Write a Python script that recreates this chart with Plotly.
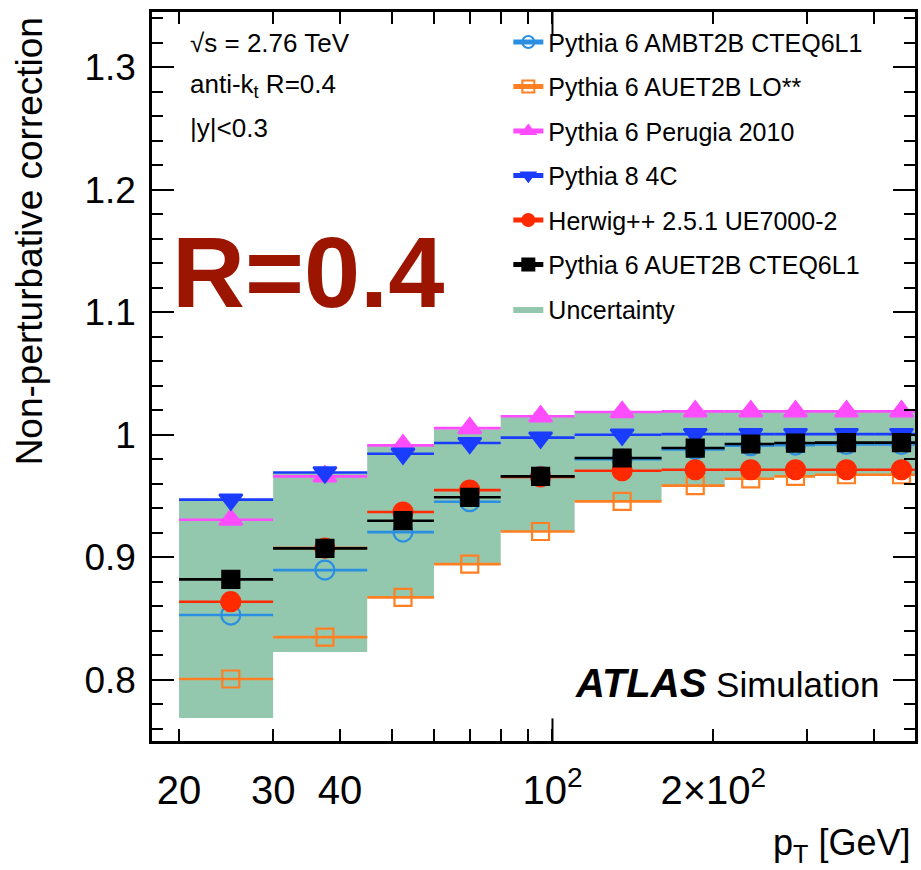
import plotly.graph_objects as go

# ---------------- data ----------------
bin_edges = [20, 30, 45, 60, 80, 110, 160, 210, 260, 310, 400, 500]

ambt2b = [0.8528, 0.8895, 0.9205, 0.9453, 0.9660, 0.9800, 0.9880, 0.9910, 0.9915, 0.9920, 0.9920]
auet2b_lo = [0.8006, 0.8348, 0.8672, 0.8944, 0.9210, 0.9456, 0.9584, 0.9640, 0.9660, 0.9673, 0.9673]
perugia = [0.9306, 0.9660, 0.9913, 1.0054, 1.0150, 1.0185, 1.0190, 1.0190, 1.0190, 1.0190, 1.0190]
py8_4c = [0.9470, 0.9692, 0.9845, 0.9932, 0.9976, 1.0000, 1.0005, 1.0005, 1.0005, 1.0005, 1.0005]
herwig = [0.8637, 0.9075, 0.9369, 0.9548, 0.9655, 0.9706, 0.9714, 0.9714, 0.9714, 0.9714, 0.9714]
auet2b_cteq = [0.8819, 0.9072, 0.9298, 0.9489, 0.9660, 0.9810, 0.9891, 0.9924, 0.9932, 0.9935, 0.9935]

unc_lo = [0.7687, 0.8226, 0.8672, 0.8944, 0.9210, 0.9456, 0.9584, 0.9640, 0.9660, 0.9673, 0.9673]
unc_hi = [0.9470, 0.9687, 0.9913, 1.0045, 1.0148, 1.0185, 1.0190, 1.0190, 1.0190, 1.0190, 1.0190]

series_names = ["Pythia 6 AMBT2B CTEQ6L1", "Pythia 6 AUET2B LO**", "Pythia 6 Perugia 2010",
                "Pythia 8 4C", "Herwig++ 2.5.1 UE7000-2", "Pythia 6 AUET2B CTEQ6L1"]
series_values = [ambt2b, auet2b_lo, perugia, py8_4c, herwig, auet2b_cteq]
series_colors = ["#2a8fe0", "#ff7f22", "#ff4cff", "#1a3cff", "#ff2a00", "#000000"]
series_symbols = ["circle-open", "square-open", "triangle-up", "triangle-down", "circle", "square"]
series_sizes = [19, 17, 20, 20, 19, 17]

x_tickvals = [20, 30, 40, 100, 200]
x_ticktext = ["20", "30", "40", "10<sup>2</sup>", "2×10<sup>2</sup>"]
x_minor_tickvals = [50, 60, 70, 80, 90, 300, 400]
y_tickvals = [0.8, 0.9, 1.0, 1.1, 1.2, 1.3]
y_ticktext = ["0.8", "0.9", "1", "1.1", "1.2", "1.3"]

FONT = "Liberation Sans, Arial, Helvetica, sans-serif"
lows = bin_edges[:-1]
highs = bin_edges[1:]
centers = [(a + b) / 2 for a, b in zip(lows, highs)]

fig = go.Figure()

# uncertainty band (boxes per bin)
bx, by = [], []
for a, b, l, h in zip(lows, highs, unc_lo, unc_hi):
    bx += [a, b, b, a, a, None]
    by += [l, l, h, h, l, None]
fig.add_trace(go.Scatter(x=bx, y=by, mode="lines", fill="toself", fillcolor="#93c8af",
                         line=dict(width=0, color="#93c8af"), name="Uncertainty",
                         legendgroup="g7", legendrank=7, hoverinfo="skip"))

for i, (nm, vals, col, sym, sz) in enumerate(zip(series_names, series_values, series_colors,
                                                  series_symbols, series_sizes)):
    lx, ly = [], []
    for a, b, v in zip(lows, highs, vals):
        lx += [a, b, None]
        ly += [v, v, None]
    fig.add_trace(go.Scatter(x=lx, y=ly, mode="lines", line=dict(color=col, width=2.6),
                             showlegend=False, legendgroup=f"g{i}", hoverinfo="skip"))
    mx, my = [], []
    for c, v in zip(centers, vals):
        mx += [c, None]
        my += [v, None]
    fig.add_trace(go.Scatter(x=mx, y=my, mode="lines+markers", name=nm,
                             line=dict(color=col, width=2.6),
                             marker=dict(symbol=sym, size=sz, color=col,
                                         line=dict(color=col, width=2.2)),
                             legendgroup=f"g{i}", legendrank=i + 1))

# long tick at 10^2 (bottom and top)
for y0, y1 in [(0, 0.031), (1, 1 - 0.031)]:
    fig.add_shape(type="line", xref="x", yref="paper", x0=100, x1=100, y0=y0, y1=y1,
                  line=dict(color="black", width=2))

ann = []
ann.append(dict(text="√s = 2.76 TeV", x=0.047, y=0.957, xref="paper", yref="paper",
                xanchor="left", yanchor="middle", showarrow=False,
                font=dict(family=FONT, size=26, color="black")))
ann.append(dict(text="anti-k<sub>t</sub> R=0.4", x=0.047, y=0.899, xref="paper", yref="paper",
                xanchor="left", yanchor="middle", showarrow=False,
                font=dict(family=FONT, size=26, color="black")))
ann.append(dict(text="|y|<0.3", x=0.047, y=0.841, xref="paper", yref="paper",
                xanchor="left", yanchor="middle", showarrow=False,
                font=dict(family=FONT, size=26, color="black")))
ann.append(dict(text="<b>R=0.4</b>", x=0.204, y=0.643, xref="paper", yref="paper",
                xanchor="center", yanchor="middle", showarrow=False,
                font=dict(family=FONT, size=101, color="#9b1500")))
ann.append(dict(text="<b><i><span style='font-size:40px'>ATLAS</span></i></b> Simulation",
                x=0.957, y=0.0796, xref="paper", yref="paper",
                xanchor="right", yanchor="middle", showarrow=False,
                font=dict(family=FONT, size=35, color="black")))
ann.append(dict(text="Non-perturbative correction", x=-0.1606, y=0.686, xref="paper", yref="paper",
                xanchor="center", yanchor="middle", showarrow=False, textangle=-90,
                font=dict(family=FONT, size=37, color="black")))
ann.append(dict(text="p<sub>T</sub> [GeV]", x=0.996, y=-0.1427, xref="paper", yref="paper",
                xanchor="right", yanchor="middle", showarrow=False,
                font=dict(family=FONT, size=36, color="black")))

fig.update_layout(
    width=921, height=870,
    margin=dict(l=152, r=3, t=12, b=129),
    paper_bgcolor="white", plot_bgcolor="white",
    showlegend=True,
    legend=dict(x=0.467, y=0.99, xanchor="left", yanchor="top", bgcolor="rgba(0,0,0,0)",
                font=dict(family=FONT, size=25, color="black"), tracegroupgap=9,
                traceorder="grouped", itemsizing="constant"),
    annotations=ann,
    xaxis=dict(type="log", range=[1.2504, 2.6785], showgrid=False, zeroline=False,
               showline=True, linecolor="black", linewidth=2.5, mirror="allticks",
               ticks="inside", ticklen=12, tickwidth=2, tickcolor="black",
               tickmode="array", tickvals=x_tickvals, ticktext=x_ticktext,
               tickfont=dict(family=FONT, size=40, color="black"), ticklabelstandoff=12,
               minor=dict(tickmode="array", tickvals=x_minor_tickvals, ticks="inside",
                          ticklen=12, tickwidth=2, tickcolor="black")),
    yaxis=dict(range=[0.750, 1.345], showgrid=False, zeroline=False,
               showline=True, linecolor="black", linewidth=2.5, mirror="allticks",
               ticks="inside", ticklen=22, tickwidth=2, tickcolor="black",
               tickmode="array", tickvals=y_tickvals, ticktext=y_ticktext,
               tickfont=dict(family=FONT, size=37, color="black"), ticklabelstandoff=6,
               minor=dict(tickmode="linear", tick0=0.8, dtick=0.02, ticks="inside",
                          ticklen=11, tickwidth=2, tickcolor="black")),
)

fig.write_html("out.html")
